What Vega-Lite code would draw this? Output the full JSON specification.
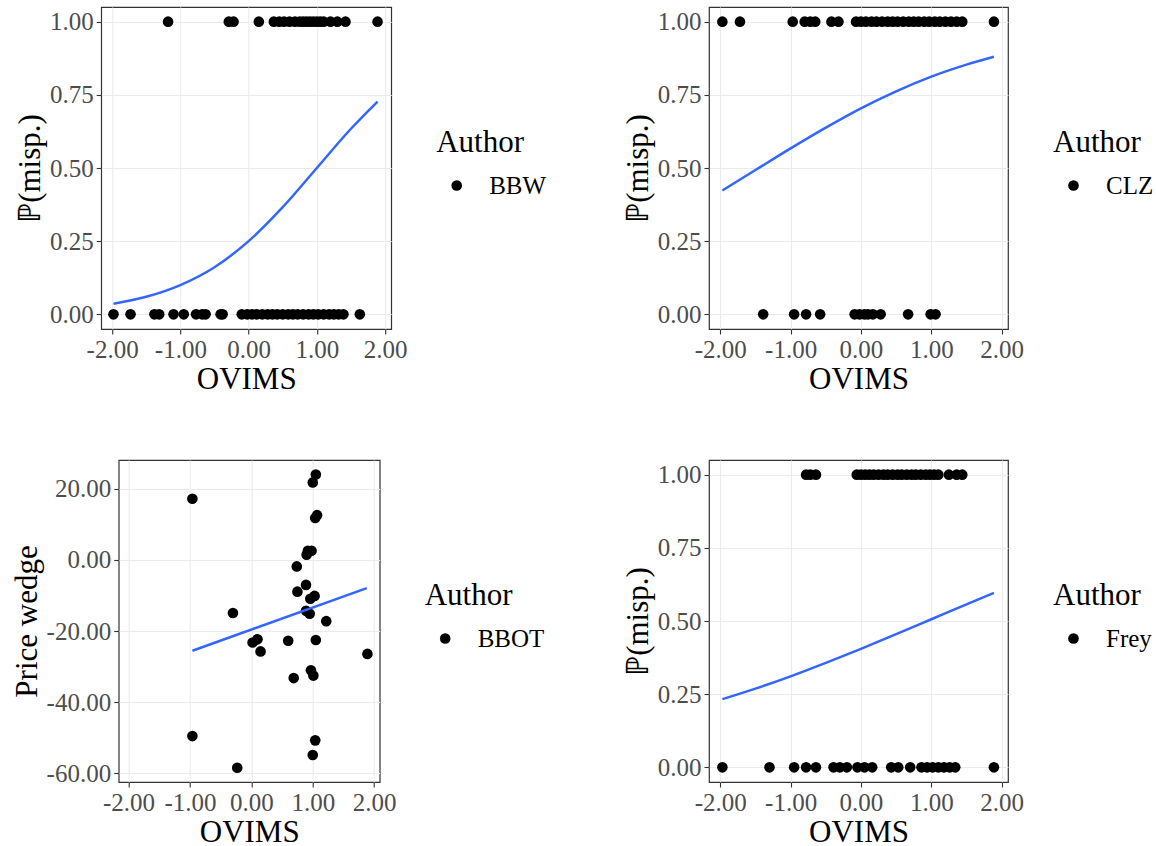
{
  "$schema": "https://vega.github.io/schema/vega-lite/v6.json",
  "padding": {"left": 10, "top": 6, "right": 0, "bottom": 0},
  "datasets": {
    "bbw_pts": [
      {"Author":"BBW","OVIMS":-1.18,"misp":1},{"Author":"BBW","OVIMS":-0.29,"misp":1},{"Author":"BBW","OVIMS":-0.22,"misp":1},{"Author":"BBW","OVIMS":0.15,"misp":1},{"Author":"BBW","OVIMS":0.37,"misp":1},{"Author":"BBW","OVIMS":0.45,"misp":1},{"Author":"BBW","OVIMS":0.52,"misp":1},{"Author":"BBW","OVIMS":0.60,"misp":1},{"Author":"BBW","OVIMS":0.68,"misp":1},{"Author":"BBW","OVIMS":0.75,"misp":1},{"Author":"BBW","OVIMS":0.80,"misp":1},{"Author":"BBW","OVIMS":0.85,"misp":1},{"Author":"BBW","OVIMS":0.90,"misp":1},{"Author":"BBW","OVIMS":0.95,"misp":1},{"Author":"BBW","OVIMS":1.00,"misp":1},{"Author":"BBW","OVIMS":1.05,"misp":1},{"Author":"BBW","OVIMS":1.10,"misp":1},{"Author":"BBW","OVIMS":1.20,"misp":1},{"Author":"BBW","OVIMS":1.30,"misp":1},{"Author":"BBW","OVIMS":1.42,"misp":1},{"Author":"BBW","OVIMS":1.89,"misp":1},
      {"Author":"BBW","OVIMS":-1.98,"misp":0},{"Author":"BBW","OVIMS":-1.73,"misp":0},{"Author":"BBW","OVIMS":-1.38,"misp":0},{"Author":"BBW","OVIMS":-1.31,"misp":0},{"Author":"BBW","OVIMS":-1.10,"misp":0},{"Author":"BBW","OVIMS":-0.95,"misp":0},{"Author":"BBW","OVIMS":-0.77,"misp":0},{"Author":"BBW","OVIMS":-0.68,"misp":0},{"Author":"BBW","OVIMS":-0.63,"misp":0},{"Author":"BBW","OVIMS":-0.41,"misp":0},{"Author":"BBW","OVIMS":-0.38,"misp":0},{"Author":"BBW","OVIMS":-0.10,"misp":0},{"Author":"BBW","OVIMS":-0.02,"misp":0},{"Author":"BBW","OVIMS":0.05,"misp":0},{"Author":"BBW","OVIMS":0.12,"misp":0},{"Author":"BBW","OVIMS":0.20,"misp":0},{"Author":"BBW","OVIMS":0.28,"misp":0},{"Author":"BBW","OVIMS":0.35,"misp":0},{"Author":"BBW","OVIMS":0.42,"misp":0},{"Author":"BBW","OVIMS":0.50,"misp":0},{"Author":"BBW","OVIMS":0.58,"misp":0},{"Author":"BBW","OVIMS":0.65,"misp":0},{"Author":"BBW","OVIMS":0.72,"misp":0},{"Author":"BBW","OVIMS":0.80,"misp":0},{"Author":"BBW","OVIMS":0.88,"misp":0},{"Author":"BBW","OVIMS":0.95,"misp":0},{"Author":"BBW","OVIMS":1.02,"misp":0},{"Author":"BBW","OVIMS":1.10,"misp":0},{"Author":"BBW","OVIMS":1.18,"misp":0},{"Author":"BBW","OVIMS":1.25,"misp":0},{"Author":"BBW","OVIMS":1.32,"misp":0},{"Author":"BBW","OVIMS":1.39,"misp":0},{"Author":"BBW","OVIMS":1.63,"misp":0}
    ],
    "bbw_fit": [
      {"OVIMS":-1.98,"fit":0.036},{"OVIMS":-1.5,"fit":0.060},{"OVIMS":-1.0,"fit":0.100},{"OVIMS":-0.5,"fit":0.161},{"OVIMS":0.0,"fit":0.250},{"OVIMS":0.5,"fit":0.366},{"OVIMS":1.0,"fit":0.500},{"OVIMS":1.5,"fit":0.634},{"OVIMS":1.89,"fit":0.727}
    ],
    "clz_pts": [
      {"Author":"CLZ","OVIMS":-1.97,"misp":1},{"Author":"CLZ","OVIMS":-1.72,"misp":1},{"Author":"CLZ","OVIMS":-0.97,"misp":1},{"Author":"CLZ","OVIMS":-0.80,"misp":1},{"Author":"CLZ","OVIMS":-0.72,"misp":1},{"Author":"CLZ","OVIMS":-0.65,"misp":1},{"Author":"CLZ","OVIMS":-0.42,"misp":1},{"Author":"CLZ","OVIMS":-0.32,"misp":1},{"Author":"CLZ","OVIMS":-0.07,"misp":1},{"Author":"CLZ","OVIMS":0.00,"misp":1},{"Author":"CLZ","OVIMS":0.07,"misp":1},{"Author":"CLZ","OVIMS":0.15,"misp":1},{"Author":"CLZ","OVIMS":0.22,"misp":1},{"Author":"CLZ","OVIMS":0.30,"misp":1},{"Author":"CLZ","OVIMS":0.38,"misp":1},{"Author":"CLZ","OVIMS":0.45,"misp":1},{"Author":"CLZ","OVIMS":0.52,"misp":1},{"Author":"CLZ","OVIMS":0.60,"misp":1},{"Author":"CLZ","OVIMS":0.68,"misp":1},{"Author":"CLZ","OVIMS":0.75,"misp":1},{"Author":"CLZ","OVIMS":0.82,"misp":1},{"Author":"CLZ","OVIMS":0.90,"misp":1},{"Author":"CLZ","OVIMS":0.97,"misp":1},{"Author":"CLZ","OVIMS":1.05,"misp":1},{"Author":"CLZ","OVIMS":1.12,"misp":1},{"Author":"CLZ","OVIMS":1.20,"misp":1},{"Author":"CLZ","OVIMS":1.28,"misp":1},{"Author":"CLZ","OVIMS":1.36,"misp":1},{"Author":"CLZ","OVIMS":1.44,"misp":1},{"Author":"CLZ","OVIMS":1.89,"misp":1},
      {"Author":"CLZ","OVIMS":-1.39,"misp":0},{"Author":"CLZ","OVIMS":-0.95,"misp":0},{"Author":"CLZ","OVIMS":-0.78,"misp":0},{"Author":"CLZ","OVIMS":-0.58,"misp":0},{"Author":"CLZ","OVIMS":-0.09,"misp":0},{"Author":"CLZ","OVIMS":-0.02,"misp":0},{"Author":"CLZ","OVIMS":0.05,"misp":0},{"Author":"CLZ","OVIMS":0.10,"misp":0},{"Author":"CLZ","OVIMS":0.17,"misp":0},{"Author":"CLZ","OVIMS":0.28,"misp":0},{"Author":"CLZ","OVIMS":0.67,"misp":0},{"Author":"CLZ","OVIMS":0.99,"misp":0},{"Author":"CLZ","OVIMS":1.06,"misp":0}
    ],
    "clz_fit": [
      {"OVIMS":-1.97,"fit":0.423},{"OVIMS":-1.5,"fit":0.493},{"OVIMS":-1.0,"fit":0.567},{"OVIMS":-0.5,"fit":0.638},{"OVIMS":0.0,"fit":0.704},{"OVIMS":0.5,"fit":0.762},{"OVIMS":1.0,"fit":0.812},{"OVIMS":1.5,"fit":0.853},{"OVIMS":1.89,"fit":0.880}
    ],
    "bbot_pts": [
      {"Author":"BBOT","OVIMS":1.05,"wedge":24.0},{"Author":"BBOT","OVIMS":1.00,"wedge":21.8},{"Author":"BBOT","OVIMS":-0.96,"wedge":17.2},{"Author":"BBOT","OVIMS":1.07,"wedge":12.6},{"Author":"BBOT","OVIMS":1.04,"wedge":11.8},{"Author":"BBOT","OVIMS":0.92,"wedge":2.6},{"Author":"BBOT","OVIMS":0.98,"wedge":2.6},{"Author":"BBOT","OVIMS":0.90,"wedge":1.5},{"Author":"BBOT","OVIMS":0.74,"wedge":-1.8},{"Author":"BBOT","OVIMS":0.89,"wedge":-7.0},{"Author":"BBOT","OVIMS":0.75,"wedge":-8.9},{"Author":"BBOT","OVIMS":1.03,"wedge":-10.1},{"Author":"BBOT","OVIMS":0.96,"wedge":-10.9},{"Author":"BBOT","OVIMS":-0.30,"wedge":-14.9},{"Author":"BBOT","OVIMS":0.89,"wedge":-14.3},{"Author":"BBOT","OVIMS":0.95,"wedge":-15.1},{"Author":"BBOT","OVIMS":1.22,"wedge":-17.2},{"Author":"BBOT","OVIMS":0.02,"wedge":-23.2},{"Author":"BBOT","OVIMS":0.10,"wedge":-22.3},{"Author":"BBOT","OVIMS":0.60,"wedge":-22.7},{"Author":"BBOT","OVIMS":1.05,"wedge":-22.5},{"Author":"BBOT","OVIMS":0.15,"wedge":-25.7},{"Author":"BBOT","OVIMS":1.89,"wedge":-26.4},{"Author":"BBOT","OVIMS":0.69,"wedge":-33.2},{"Author":"BBOT","OVIMS":0.97,"wedge":-31.0},{"Author":"BBOT","OVIMS":1.01,"wedge":-32.5},{"Author":"BBOT","OVIMS":-0.96,"wedge":-49.5},{"Author":"BBOT","OVIMS":1.04,"wedge":-50.7},{"Author":"BBOT","OVIMS":1.00,"wedge":-54.8},{"Author":"BBOT","OVIMS":-0.23,"wedge":-58.4}
    ],
    "bbot_fit": [
      {"OVIMS":-0.96,"fit":-25.5},{"OVIMS":1.88,"fit":-7.9}
    ],
    "frey_pts": [
      {"Author":"Frey","OVIMS":-0.78,"misp":1},{"Author":"Frey","OVIMS":-0.72,"misp":1},{"Author":"Frey","OVIMS":-0.64,"misp":1},{"Author":"Frey","OVIMS":-0.06,"misp":1},{"Author":"Frey","OVIMS":0.00,"misp":1},{"Author":"Frey","OVIMS":0.06,"misp":1},{"Author":"Frey","OVIMS":0.12,"misp":1},{"Author":"Frey","OVIMS":0.18,"misp":1},{"Author":"Frey","OVIMS":0.25,"misp":1},{"Author":"Frey","OVIMS":0.32,"misp":1},{"Author":"Frey","OVIMS":0.38,"misp":1},{"Author":"Frey","OVIMS":0.45,"misp":1},{"Author":"Frey","OVIMS":0.52,"misp":1},{"Author":"Frey","OVIMS":0.58,"misp":1},{"Author":"Frey","OVIMS":0.65,"misp":1},{"Author":"Frey","OVIMS":0.72,"misp":1},{"Author":"Frey","OVIMS":0.78,"misp":1},{"Author":"Frey","OVIMS":0.85,"misp":1},{"Author":"Frey","OVIMS":0.92,"misp":1},{"Author":"Frey","OVIMS":0.98,"misp":1},{"Author":"Frey","OVIMS":1.04,"misp":1},{"Author":"Frey","OVIMS":1.10,"misp":1},{"Author":"Frey","OVIMS":1.25,"misp":1},{"Author":"Frey","OVIMS":1.36,"misp":1},{"Author":"Frey","OVIMS":1.44,"misp":1},
      {"Author":"Frey","OVIMS":-1.97,"misp":0},{"Author":"Frey","OVIMS":-1.30,"misp":0},{"Author":"Frey","OVIMS":-0.95,"misp":0},{"Author":"Frey","OVIMS":-0.78,"misp":0},{"Author":"Frey","OVIMS":-0.64,"misp":0},{"Author":"Frey","OVIMS":-0.39,"misp":0},{"Author":"Frey","OVIMS":-0.30,"misp":0},{"Author":"Frey","OVIMS":-0.20,"misp":0},{"Author":"Frey","OVIMS":-0.05,"misp":0},{"Author":"Frey","OVIMS":0.05,"misp":0},{"Author":"Frey","OVIMS":0.16,"misp":0},{"Author":"Frey","OVIMS":0.43,"misp":0},{"Author":"Frey","OVIMS":0.53,"misp":0},{"Author":"Frey","OVIMS":0.70,"misp":0},{"Author":"Frey","OVIMS":0.86,"misp":0},{"Author":"Frey","OVIMS":0.94,"misp":0},{"Author":"Frey","OVIMS":1.02,"misp":0},{"Author":"Frey","OVIMS":1.10,"misp":0},{"Author":"Frey","OVIMS":1.18,"misp":0},{"Author":"Frey","OVIMS":1.26,"misp":0},{"Author":"Frey","OVIMS":1.34,"misp":0},{"Author":"Frey","OVIMS":1.89,"misp":0}
    ],
    "frey_fit": [
      {"OVIMS":-1.97,"fit":0.233},{"OVIMS":-1.5,"fit":0.269},{"OVIMS":-1.0,"fit":0.311},{"OVIMS":-0.5,"fit":0.357},{"OVIMS":0.0,"fit":0.405},{"OVIMS":0.5,"fit":0.455},{"OVIMS":1.0,"fit":0.506},{"OVIMS":1.5,"fit":0.557},{"OVIMS":1.89,"fit":0.596}
    ]
  },
  "concat": [
    {
      "width": 290, "height": 322,
      "layer": [
        {
          "data": {"name": "bbw_pts"},
          "mark": {"type": "point", "filled": true, "size": 113, "opacity": 1},
          "encoding": {
            "x": {"field": "OVIMS", "type": "quantitative", "scale": {"domain": [-2.16, 2.09], "nice": false, "zero": false}, "axis": {"values": [-2, -1, 0, 1, 2], "format": ".2f", "title": "OVIMS"}},
            "y": {"field": "misp", "type": "quantitative", "scale": {"domain": [-0.05, 1.05], "nice": false, "zero": false}, "axis": {"values": [0, 0.25, 0.5, 0.75, 1], "format": ".2f", "title": "ℙ(misp.)"}},
            "color": {"field": "Author", "type": "nominal", "scale": {"range": ["#000000"]}, "legend": {"orient": "none", "legendX": 319, "legendY": 105, "padding": 16, "title": "Author"}}
          }
        },
        {
          "data": {"name": "bbw_fit"},
          "mark": {"type": "line", "color": "#3366FF", "strokeWidth": 2.5, "interpolate": "monotone"},
          "encoding": {
            "x": {"field": "OVIMS", "type": "quantitative", "scale": {"domain": [-2.16, 2.09], "nice": false, "zero": false}, "axis": {"values": [-1.5, -0.5, 0.5, 1.5], "labels": false, "ticks": false, "domain": false, "title": null, "gridWidth": 0.5}},
            "y": {"field": "fit", "type": "quantitative", "scale": {"domain": [-0.05, 1.05], "nice": false, "zero": false}, "axis": {"values": [0.125, 0.375, 0.625, 0.875], "labels": false, "ticks": false, "domain": false, "title": null, "gridWidth": 0.5}}
          }
        }
      ],
      "resolve": {"axis": {"x": "independent", "y": "independent"}}
    },
    {
      "width": 299, "height": 322,
      "layer": [
        {
          "data": {"name": "clz_pts"},
          "mark": {"type": "point", "filled": true, "size": 113, "opacity": 1},
          "encoding": {
            "x": {"field": "OVIMS", "type": "quantitative", "scale": {"domain": [-2.16, 2.09], "nice": false, "zero": false}, "axis": {"values": [-2, -1, 0, 1, 2], "format": ".2f", "title": "OVIMS"}},
            "y": {"field": "misp", "type": "quantitative", "scale": {"domain": [-0.05, 1.05], "nice": false, "zero": false}, "axis": {"values": [0, 0.25, 0.5, 0.75, 1], "format": ".2f", "title": "ℙ(misp.)"}},
            "color": {"field": "Author", "type": "nominal", "scale": {"range": ["#000000"]}, "legend": {"orient": "none", "legendX": 344, "legendY": 121, "title": "Author"}}
          }
        },
        {
          "data": {"name": "clz_fit"},
          "mark": {"type": "line", "color": "#3366FF", "strokeWidth": 2.5, "interpolate": "monotone"},
          "encoding": {
            "x": {"field": "OVIMS", "type": "quantitative", "scale": {"domain": [-2.16, 2.09], "nice": false, "zero": false}, "axis": {"values": [-1.5, -0.5, 0.5, 1.5], "labels": false, "ticks": false, "domain": false, "title": null, "gridWidth": 0.5}},
            "y": {"field": "fit", "type": "quantitative", "scale": {"domain": [-0.05, 1.05], "nice": false, "zero": false}, "axis": {"values": [0.125, 0.375, 0.625, 0.875], "labels": false, "ticks": false, "domain": false, "title": null, "gridWidth": 0.5}}
          }
        }
      ],
      "resolve": {"axis": {"x": "independent", "y": "independent"}}
    },
    {
      "width": 261, "height": 322,
      "layer": [
        {
          "data": {"name": "bbot_pts"},
          "mark": {"type": "point", "filled": true, "size": 113, "opacity": 1},
          "encoding": {
            "x": {"field": "OVIMS", "type": "quantitative", "scale": {"domain": [-2.16, 2.09], "nice": false, "zero": false}, "axis": {"values": [-2, -1, 0, 1, 2], "format": ".2f", "title": "OVIMS"}},
            "y": {"field": "wedge", "type": "quantitative", "scale": {"domain": [-62.4, 28.1], "nice": false, "zero": false}, "axis": {"values": [-60, -40, -20, 0, 20], "format": ".2f", "title": "Price wedge"}},
            "color": {"field": "Author", "type": "nominal", "scale": {"range": ["#000000"]}, "legend": {"orient": "none", "legendX": 306, "legendY": 121, "title": "Author"}}
          }
        },
        {
          "data": {"name": "bbot_fit"},
          "mark": {"type": "line", "color": "#3366FF", "strokeWidth": 2.5},
          "encoding": {
            "x": {"field": "OVIMS", "type": "quantitative", "scale": {"domain": [-2.16, 2.09], "nice": false, "zero": false}, "axis": {"values": [-1.5, -0.5, 0.5, 1.5], "labels": false, "ticks": false, "domain": false, "title": null, "gridWidth": 0.5}},
            "y": {"field": "fit", "type": "quantitative", "scale": {"domain": [-62.4, 28.1], "nice": false, "zero": false}, "axis": {"values": [-50, -30, -10, 10], "labels": false, "ticks": false, "domain": false, "title": null, "gridWidth": 0.5}}
          }
        }
      ],
      "resolve": {"axis": {"x": "independent", "y": "independent"}}
    },
    {
      "width": 299, "height": 322,
      "layer": [
        {
          "data": {"name": "frey_pts"},
          "mark": {"type": "point", "filled": true, "size": 113, "opacity": 1},
          "encoding": {
            "x": {"field": "OVIMS", "type": "quantitative", "scale": {"domain": [-2.16, 2.09], "nice": false, "zero": false}, "axis": {"values": [-2, -1, 0, 1, 2], "format": ".2f", "title": "OVIMS"}},
            "y": {"field": "misp", "type": "quantitative", "scale": {"domain": [-0.05, 1.05], "nice": false, "zero": false}, "axis": {"values": [0, 0.25, 0.5, 0.75, 1], "format": ".2f", "title": "ℙ(misp.)"}},
            "color": {"field": "Author", "type": "nominal", "scale": {"range": ["#000000"]}, "legend": {"orient": "none", "legendX": 344, "legendY": 121, "title": "Author"}}
          }
        },
        {
          "data": {"name": "frey_fit"},
          "mark": {"type": "line", "color": "#3366FF", "strokeWidth": 2.5, "interpolate": "monotone"},
          "encoding": {
            "x": {"field": "OVIMS", "type": "quantitative", "scale": {"domain": [-2.16, 2.09], "nice": false, "zero": false}, "axis": {"values": [-1.5, -0.5, 0.5, 1.5], "labels": false, "ticks": false, "domain": false, "title": null, "gridWidth": 0.5}},
            "y": {"field": "fit", "type": "quantitative", "scale": {"domain": [-0.05, 1.05], "nice": false, "zero": false}, "axis": {"values": [0.125, 0.375, 0.625, 0.875], "labels": false, "ticks": false, "domain": false, "title": null, "gridWidth": 0.5}}
          }
        }
      ],
      "resolve": {"axis": {"x": "independent", "y": "independent"}}
    }
  ],
  "columns": 2,
  "align": "all",
  "center": {"column": true, "row": false},
  "spacing": {"row": 64, "column": 58},
  "resolve": {"scale": {"color": "independent"}, "legend": {"color": "independent"}},
  "config": {
    "font": "Liberation Serif",
    "view": {"stroke": "#333333", "strokeWidth": 1.2},
    "axis": {
      "domain": false,
      "grid": true,
      "gridColor": "#EBEBEB",
      "gridWidth": 1.1,
      "tickColor": "#333333",
      "tickSize": 5,
      "tickWidth": 1.1,
      "labelFont": "Liberation Serif",
      "labelFontSize": 25,
      "labelColor": "#4D4D4D",
      "labelPadding": 3,
      "labelFlush": false,
      "labelOverlap": false,
      "labelBound": false,
      "titleFont": "Liberation Serif",
      "titleFontSize": 31,
      "titleFontWeight": "normal",
      "titleColor": "#000000",
      "titlePadding": 3
    },
    "axisX": {"titlePadding": 2},
    "legend": {
      "titleFont": "Liberation Serif",
      "titleFontSize": 31,
      "titleFontWeight": "normal",
      "titleColor": "#000000",
      "labelFont": "Liberation Serif",
      "labelFontSize": 25,
      "labelColor": "#000000",
      "symbolType": "circle",
      "symbolSize": 113,
      "symbolOffset": 8,
      "labelOffset": 20,
      "titlePadding": 14,
      "padding": 0
    },
    "locale": {"number": {"decimal": ".", "thousands": ",", "grouping": [3], "currency": ["$", ""], "minus": "-"}}
  }
}
